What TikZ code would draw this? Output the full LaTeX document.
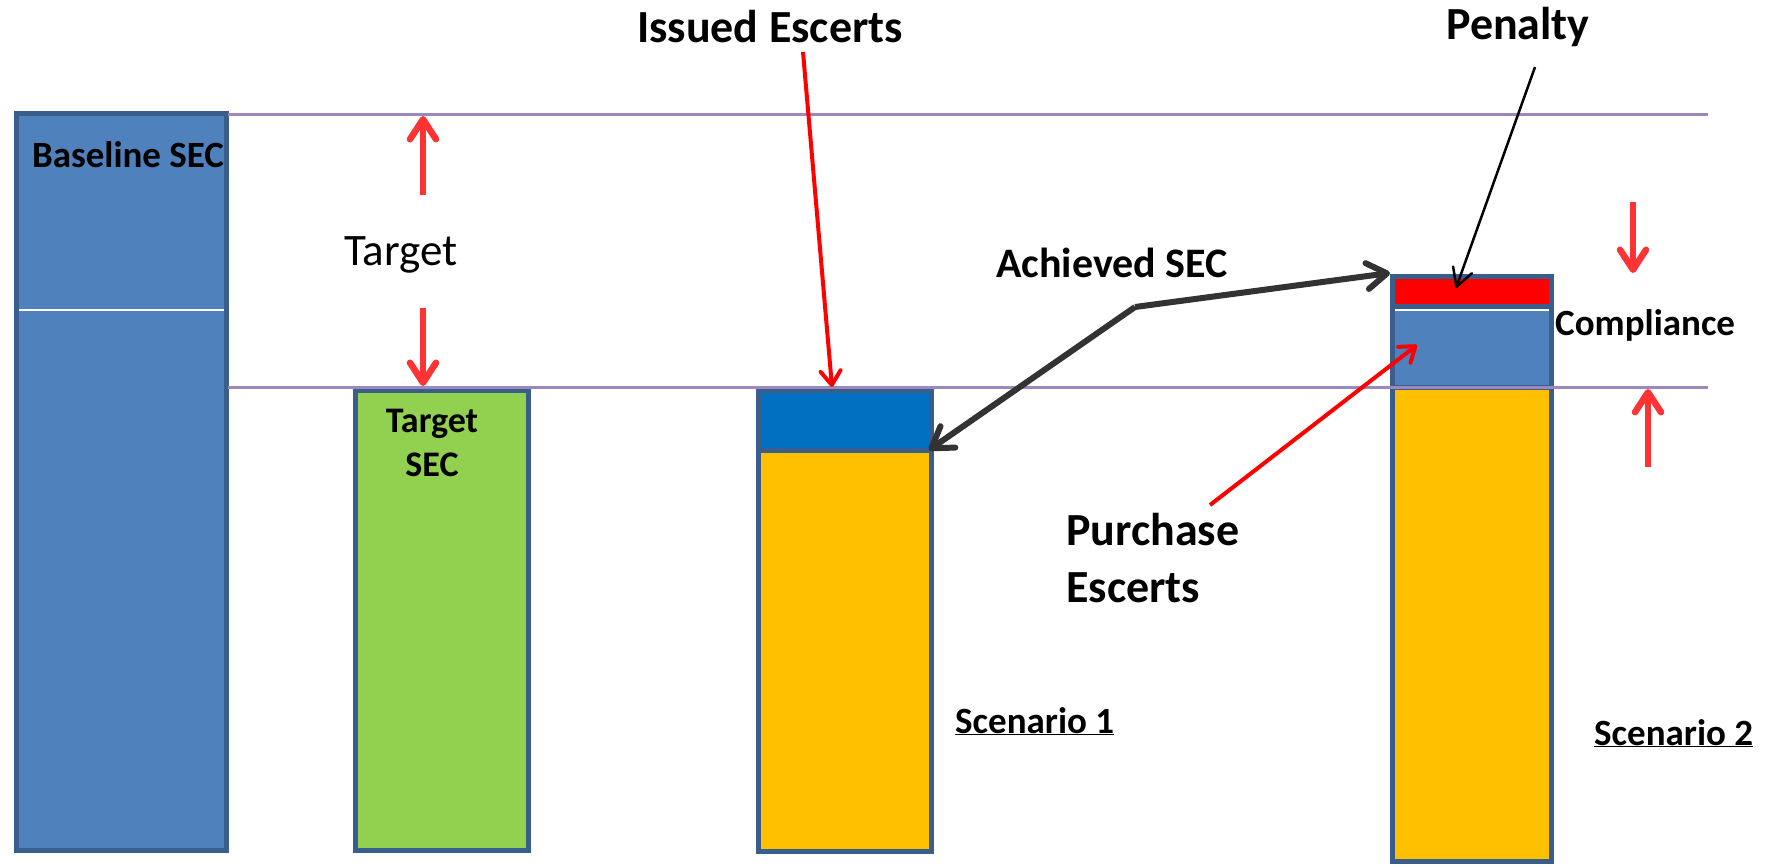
\documentclass[tikz,border=0pt]{standalone}
\usepackage{fontspec}
\setmainfont{Carlito}
\usetikzlibrary{arrows.meta}
\definecolor{barblue}{HTML}{4F81BD}
\definecolor{baredge}{HTML}{3A5E8C}
\definecolor{targetgreen}{HTML}{92D050}
\definecolor{fillorange}{HTML}{FFC000}
\definecolor{issuedblue}{HTML}{0070C0}
\definecolor{levelpurple}{HTML}{9C88BC}
\definecolor{arrowred}{HTML}{FF3333}
\definecolor{darkline}{HTML}{333333}
\tikzstyle{bar}=[draw=baredge,line width=5pt]
\tikzstyle{level}=[draw=levelpurple,line width=3pt]
\tikzstyle{bigbold}=[inner sep=0pt,anchor=base,font=\fontsize{46}{57}\selectfont\bfseries]
\tikzstyle{smallbold}=[inner sep=0pt,anchor=base,font=\fontsize{36}{44}\selectfont\bfseries]
\tikzstyle{redpush}=[draw=arrowred,line width=6.5pt,-{Straight Barb[length=20pt,width=26pt,round]}]
\tikzstyle{pointer}=[draw=red,line width=4pt,-{Straight Barb[length=14pt,width=20pt,round]}]

\begin{document}
\begin{tikzpicture}[x=1pt,y=-1pt]
\useasboundingbox (0,0) rectangle (1769,867);

% bars
\fill[barblue] (16,113) rectangle (226,850);
\draw[white,line width=1.5pt] (18,310) -- (224,310);
\draw[bar] (16,113) rectangle (226,850);

\fill[targetgreen] (355,390) rectangle (528,850);
\draw[bar] (355,390) rectangle (528,850);

\fill[issuedblue] (758,390) rectangle (931,450);
\fill[fillorange] (758,450) rectangle (931,851);
\draw[bar] (758,450) -- (931,450);
\draw[bar] (758,390) rectangle (931,851);

\fill[red] (1392,276) rectangle (1551,306);
\fill[barblue] (1392,306) rectangle (1551,387);
\fill[fillorange] (1392,387) rectangle (1551,861);
\draw[bar] (1392,306) -- (1551,306);
\draw[white,line width=1.5pt] (1394,310) -- (1549,310);
\draw[bar] (1392,387) -- (1551,387);
\draw[bar] (1392,276) rectangle (1551,861);

% levels
\draw[level] (228,114) -- (1708,114);
\draw[level] (228,387) -- (1708,387);

% end points
\coordinate (tgtuptail) at (423,195);
\coordinate (tgtuptip) at (423,116);
\coordinate (tgtdowntail) at (423,308);
\coordinate (tgtdowntip) at (423,386);
\coordinate (cmpdowntail) at (1633,202);
\coordinate (cmpdowntip) at (1633,273);
\coordinate (cmpuptail) at (1648,467);
\coordinate (cmpuptip) at (1648,389);
\coordinate (issuedtail) at (803,52);
\coordinate (issuedtip) at (832,387);
\coordinate (penaltytail) at (1535,67);
\coordinate (penaltytip) at (1456,288);
\coordinate (purchasetail) at (1210,505);
\coordinate (purchasetip) at (1417,345);
\coordinate (achbend) at (1135,307);
\coordinate (ach1tip) at (929,450);
\coordinate (ach2tip) at (1390,273);

% labels (multi-line nodes sit on their last baseline)
\node[smallbold,font=\fontsize{37}{44}\selectfont\bfseries] (baseline) at (128,167) {Baseline SEC};
\node[inner sep=0pt,anchor=base,font=\fontsize{45}{54}\selectfont] (targetlbl) at (401,265) {Target};
\node[smallbold,align=center] (targetsec) at (432,476) {Target\\SEC};
\node[bigbold] (issued) at (770,43) {Issued Escerts};
\node[bigbold,font=\fontsize{42}{50}\selectfont\bfseries] (achieved) at (1112,277) {Achieved SEC};
\node[bigbold] (penalty) at (1518,40) {Penalty};
\node[smallbold,anchor=base west,font=\fontsize{37}{44}\selectfont\bfseries] (compliance) at (1555,335) {Compliance};
\node[bigbold,anchor=base west,align=left] (purchase) at (1066,602) {Purchase\\Escerts};
\node[smallbold,anchor=base west,font=\fontsize{37}{44}\selectfont\bfseries] (scen1) at (955,733) {\underline{Scenario 1}};
\node[smallbold,anchor=base west,font=\fontsize{37}{44}\selectfont\bfseries] (scen2) at (1594,745) {\underline{Scenario 2}};

% arrows
\draw[redpush] (tgtuptail) -- (tgtuptip);
\draw[redpush] (tgtdowntail) -- (tgtdowntip);
\draw[redpush] (cmpdowntail) -- (cmpdowntip);
\draw[redpush] (cmpuptail) -- (cmpuptip);
\draw[pointer] (issuedtail) -- (issuedtip);
\draw[pointer] (purchasetail) -- (purchasetip);
\draw[black,line width=2.5pt,-{Straight Barb[length=18pt,width=20pt,round]}] (penaltytail) -- (penaltytip);
\draw[darkline,line width=6pt,-{Straight Barb[length=20pt,width=26pt,round]}] (achbend) -- (ach1tip);
\draw[darkline,line width=6pt,-{Straight Barb[length=20pt,width=26pt,round]}] (achbend) -- (ach2tip);
\end{tikzpicture}
\end{document}
